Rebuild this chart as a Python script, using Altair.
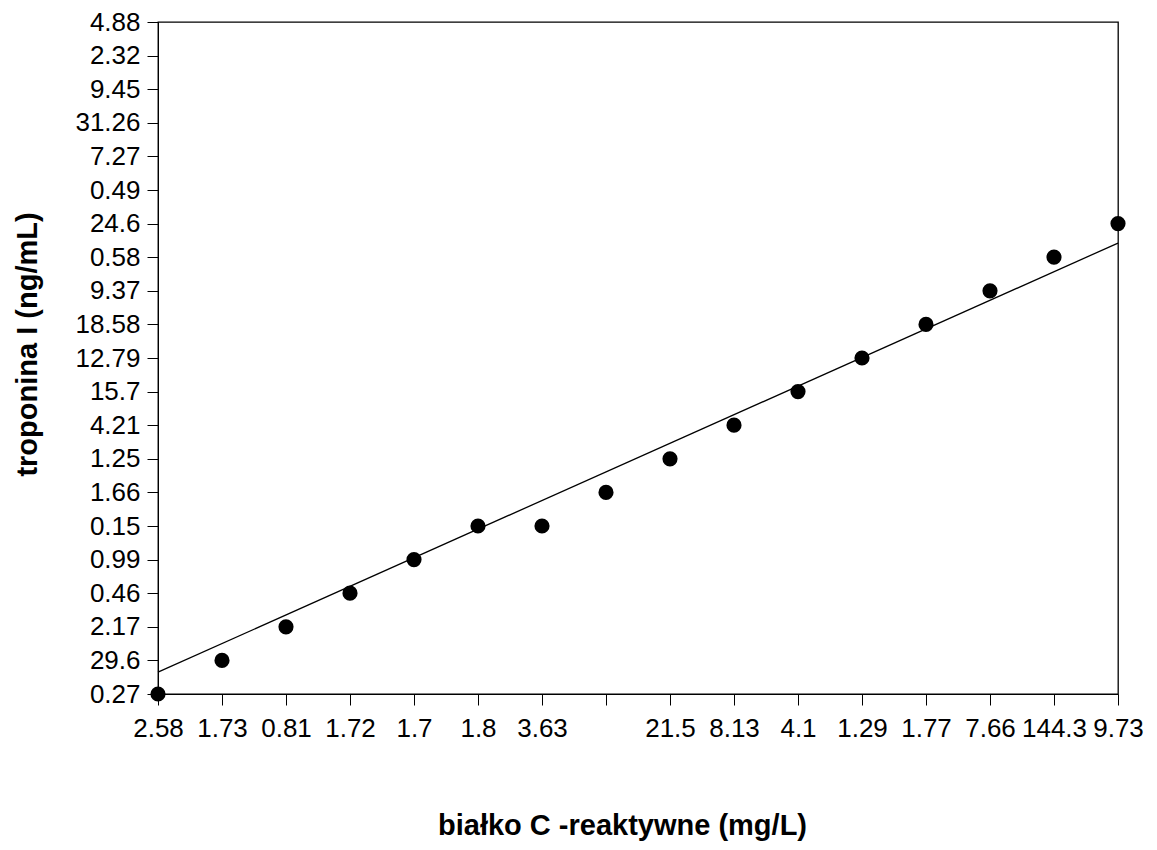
import altair as alt
import pandas as pd

x_labels = ["2.58", "1.73", "0.81", "1.72", "1.7", "1.8", "3.63", "", "21.5",
            "8.13", "4.1", "1.29", "1.77", "7.66", "144.3", "9.73"]
y_labels = ["0.27", "29.6", "2.17", "0.46", "0.99", "0.15", "1.66", "1.25", "4.21",
            "15.7", "12.79", "18.58", "9.37", "0.58", "24.6", "0.49", "7.27",
            "31.26", "9.45", "2.32", "4.88"]

point_x = [0, 1, 2, 3, 4, 5, 6, 7, 8, 9, 10, 11, 12, 13, 14, 15]
point_y = [0, 1, 2, 3, 4, 5, 5, 6, 7, 8, 9, 10, 11, 12, 13, 14]

trend_x = [0, 15]
trend_y = [0.65, 13.42]

pts = pd.DataFrame({"x": point_x, "y": point_y})
trend = pd.DataFrame({"x": trend_x, "y": trend_y})

x_expr = "[" + ",".join(f"'{s}'" for s in x_labels) + "][datum.value]"
y_expr = "[" + ",".join(f"'{s}'" for s in y_labels) + "][datum.value]"

FONT = "Liberation Sans"

x_enc = alt.X("x:Q", scale=alt.Scale(domain=[0, 15], nice=False, zero=False),
              axis=alt.Axis(title="białko C -reaktywne (mg/L)", values=list(range(16)),
                            labelExpr=x_expr, grid=False, tickSize=11, tickColor="black",
                            domainColor="black", labelFontSize=26, labelColor="black",
                            labelFont=FONT, labelPadding=10, labelFlush=False,
                            labelOverlap=False, titleFont=FONT, titleFontSize=29,
                            titleFontWeight="bold", titleColor="black", titlePadding=70,
                            titleX=464))
y_enc = alt.Y("y:Q", scale=alt.Scale(domain=[0, 20], nice=False, zero=False),
              axis=alt.Axis(title="troponina I (ng/mL)", values=list(range(21)),
                            labelExpr=y_expr, grid=False, tickSize=11, tickColor="black",
                            domainColor="black", labelFontSize=26, labelColor="black",
                            labelFont=FONT, labelPadding=7, labelFlush=False,
                            labelOverlap=False, titleFont=FONT, titleFontSize=29,
                            titleFontWeight="bold", titleColor="black", titlePadding=32,
                            titleY=322))

points = alt.Chart(pts).mark_circle(size=230, color="black", opacity=1, clip=False).encode(
    x=x_enc, y=y_enc)
line = alt.Chart(trend).mark_line(color="black", strokeWidth=1.3).encode(x=x_enc, y=y_enc)

chart = alt.layer(line, points).properties(
    width=960, height=672,
    autosize=alt.AutoSizeParams(type="none"),
    padding={"left": 158, "top": 22, "right": 39, "bottom": 156},
    background="white",
).configure_view(stroke="black", strokeWidth=1.3)

chart.save("out.html", embed_options={"renderer": "svg", "actions": False})
